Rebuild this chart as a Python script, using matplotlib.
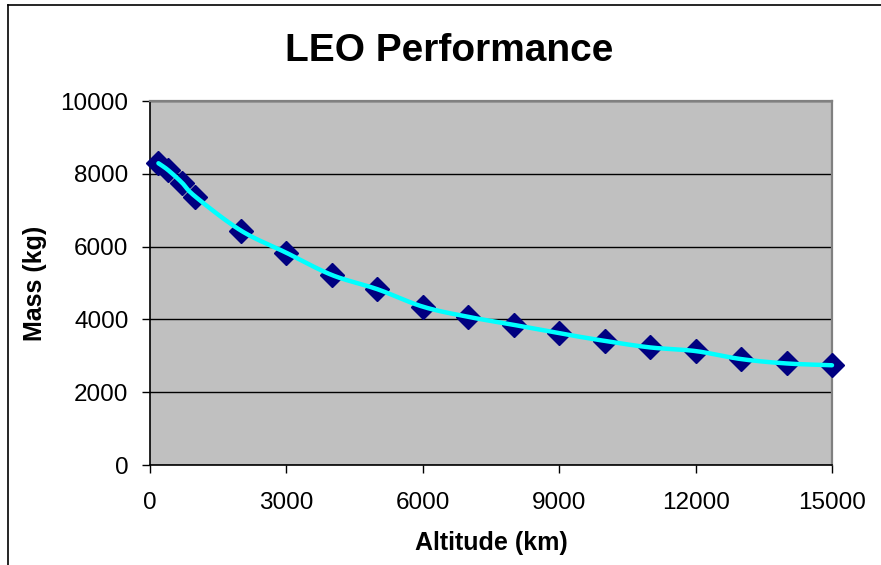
import numpy as np
import matplotlib
matplotlib.use("Agg")
import matplotlib.pyplot as plt
from matplotlib.lines import Line2D

# data
altitude_km = [185, 400, 700, 1000, 2000, 3000, 4000, 5000, 6000, 7000,
               8000, 9000, 10000, 11000, 12000, 13000, 14000, 15000]
mass_kg = [8290, 8100, 7760, 7370, 6440, 5830, 5220, 4830, 4350, 4070,
           3850, 3620, 3410, 3230, 3130, 2910, 2790, 2740]
x_ticks = [0, 3000, 6000, 9000, 12000, 15000]
y_ticks = [0, 2000, 4000, 6000, 8000, 10000]


def smooth(x, y, n=20):
    # catmull-rom style smoothing, roughly what excel does for "smoothed line"
    x = np.asarray(x, float)
    y = np.asarray(y, float)
    px = np.concatenate([[2 * x[0] - x[1]], x, [2 * x[-1] - x[-2]]])
    py = np.concatenate([[2 * y[0] - y[1]], y, [2 * y[-1] - y[-2]]])
    t = np.linspace(0, 1, n)
    xs, ys = [], []
    for i in range(1, len(px) - 2):
        for arr, out in ((px, xs), (py, ys)):
            p0, p1, p2, p3 = arr[i - 1], arr[i], arr[i + 1], arr[i + 2]
            out.append(0.5 * ((2 * p1) + (-p0 + p2) * t
                              + (2 * p0 - 5 * p1 + 4 * p2 - p3) * t ** 2
                              + (-p0 + 3 * p1 - 3 * p2 + p3) * t ** 3))
    return np.concatenate(xs), np.concatenate(ys)


plt.rcParams['font.family'] = ['Liberation Sans', 'DejaVu Sans']

W, H = 881, 565
fig = plt.figure(figsize=(W / 100, H / 100), dpi=100)
fig.patch.set_facecolor('white')

# axes placed by pixel edges of the plot area
left, right, top, bottom = 150, 832, 101, 465
ax = fig.add_axes([left / W, 1 - bottom / H, (right - left) / W, (bottom - top) / H])
ax.set_facecolor('#C0C0C0')

ax.plot(altitude_km, mass_kg, linestyle='none', marker='D', markersize=12.5,
        color='#000080', zorder=3, clip_on=False)
sx, sy = smooth(altitude_km, mass_kg)
ax.plot(sx, sy, color='#00FFFF', linewidth=3.2, zorder=4, clip_on=False,
        solid_capstyle='round')

ax.set_xlim(0, 15000)
ax.set_ylim(0, 10000)
ax.set_xticks(x_ticks)
ax.set_yticks(y_ticks)
ax.yaxis.grid(True, color='black', linewidth=1.0)
ax.set_axisbelow(True)

for s in ('top', 'right'):
    ax.spines[s].set_color('#808080')
    ax.spines[s].set_linewidth(1.6)
for s in ('left', 'bottom'):
    ax.spines[s].set_color('black')
    ax.spines[s].set_linewidth(1.2)

ax.tick_params(direction='out', length=5.5, width=1.0, labelsize=17.5, pad=10,
               colors='black')
ax.tick_params(axis='x', pad=14)

ax.set_xlabel('Altitude (km)', fontsize=18, fontweight='bold', va='center')
ax.xaxis.set_label_coords(0.5, (bottom - 543) / (bottom - top))
ax.set_ylabel('Mass (kg)', fontsize=18, fontweight='bold', va='center')
ax.yaxis.set_label_coords((35 - left) / (right - left), 0.5)

fig.text(449.5 / W, 1 - 51 / H, 'LEO Performance', fontsize=28,
         fontweight='bold', ha='center', va='center')

# chart area border (runs off the right and bottom of the picture)
fig.add_artist(Line2D([8 / W, 8 / W], [0, 1 - 5 / H], color='black', linewidth=1.2))
fig.add_artist(Line2D([8 / W, 1], [1 - 5 / H, 1 - 5 / H], color='black', linewidth=1.2))

fig.savefig('out.png', dpi=100, facecolor='white')
